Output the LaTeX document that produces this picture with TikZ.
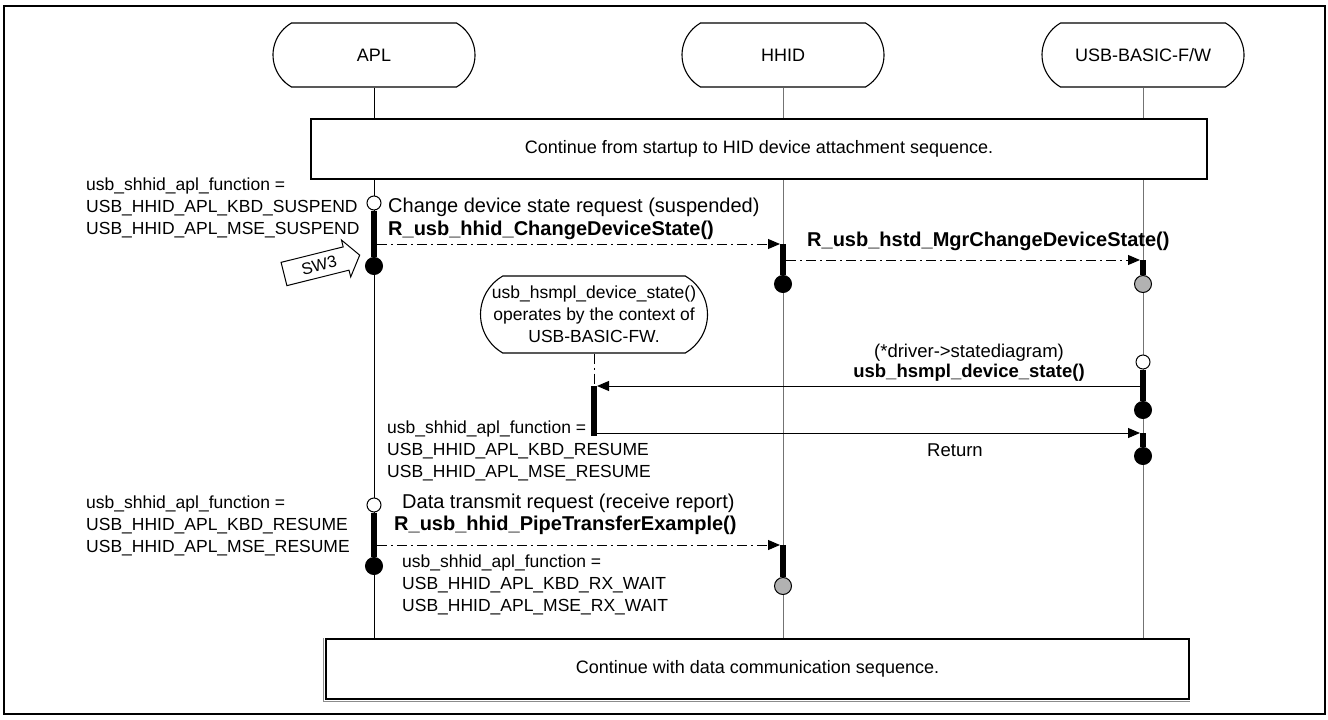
\documentclass[tikz,border=0pt]{standalone}
\usepackage{fontspec}
\setmainfont{Liberation Sans}
\usetikzlibrary{arrows.meta,shapes.misc}

\tikzset{
  frame/.style={line width=2pt},
  actor/.style={rounded rectangle, rounded rectangle arc length=120, draw, line width=1.1pt,
    minimum width=202pt, minimum height=64pt, inner sep=0pt, font=\fontsize{18}{22}\selectfont},
  seqbox/.style={draw, line width=1.3pt, fill=white, minimum height=60pt, inner sep=0pt,
    font=\fontsize{18}{22}\selectfont},
  bubble/.style={rounded rectangle, rounded rectangle arc length=120, draw, line width=1.1pt,
    fill=white, minimum width=227pt, minimum height=77pt, inner sep=0pt, align=center,
    font=\fontsize{17.5}{22}\selectfont},
  life/.style={draw=black!55, line width=1pt},
  actbar/.style={line width=6pt},
  openend/.style={circle, draw, line width=1pt, fill=white, minimum size=14pt, inner sep=0pt},
  closedend/.style={circle, draw, line width=1pt, fill=black, minimum size=17pt, inner sep=0pt},
  grayend/.style={circle, draw, line width=1pt, fill=black!30, minimum size=17pt, inner sep=0pt},
  dashdot/.style={dash pattern=on 10pt off 4pt on 2pt off 4pt},
  call/.style={line width=1pt, dashdot, -{Triangle[length=12pt,width=10pt]}},
  reply/.style={line width=1pt, -{Triangle[length=12pt,width=10pt]}},
  note/.style={font=\fontsize{17.5}{22}\selectfont, inner sep=0pt, align=left, anchor=west},
  msg/.style={font=\fontsize{20}{22}\selectfont, inner sep=0pt, anchor=west},
  msgb/.style={inner sep=0pt, anchor=west, font=\fontsize{20}{22}\selectfont\bfseries},
  smallmsg/.style={font=\fontsize{18.5}{22}\selectfont, inner sep=0pt},
}

\begin{document}
\begin{tikzpicture}[x=1pt,y=-1pt]
\useasboundingbox (0,0) rectangle (1328,720);
\fill[white] (0,0) rectangle (1328,720);
\draw[frame] (4,6) rectangle (1325,714);

% lifeline heads
\node[actor] (apl)  at (374,55)  {APL};
\node[actor] (hhid) at (783,55)  {HHID};
\node[actor] (usb)  at (1143,55) {USB-BASIC-F/W};

% lifelines
\coordinate (lifeend) at (0,639);
\draw[life, draw=black] (apl.south) -- (apl.south |- lifeend);
\draw[life] (hhid.south) -- (hhid.south |- lifeend);
\draw[life] (usb.south)  -- (usb.south |- lifeend);

% sequence frames
\node[seqbox, minimum width=896pt] (top) at (759,149)
  {Continue from startup to HID device attachment sequence.};
\node[seqbox, minimum width=863pt] (bot) at (757.5,669)
  {Continue with data communication sequence.};
\draw[black!45, line width=1pt] ([xshift=-1.5pt]bot.north west)
  -- ([shift={(-1.5pt,-1.5pt)}]bot.south west) -- ([yshift=-1.5pt]bot.south east);

% ---- suspend request ----
\node[note] (n1) at (86,208) {usb\_shhid\_apl\_function =\\USB\_HHID\_APL\_KBD\_SUSPEND\\USB\_HHID\_APL\_MSE\_SUSPEND};
\node[openend] (o1) at (374,203) {};
\node[closedend] (c1) at (374,266) {};
\draw[actbar] (o1.south) -- (c1.north);
\node[msg]  (t1) at (388,207) {Change device state request (suspended)};
\node[msgb] (t2) at (388,230) {R\_usb\_hhid\_ChangeDeviceState()};
\coordinate (m1a) at (377,244);
\coordinate (m1b) at (780,244);
\draw[call] (m1a) -- (m1b);
\coordinate (h1t) at (783,244);
\node[closedend] (c2) at (783,284) {};
\draw[actbar] (h1t) -- (c2.north);

\node[msgb] (t3) at (807,241) {R\_usb\_hstd\_MgrChangeDeviceState()};
\coordinate (m2a) at (786,260);
\coordinate (m2b) at (1140,260);
\draw[call] (m2a) -- (m2b);
\coordinate (u1t) at (1143,260);
\node[grayend] (g1) at (1143,284) {};
\draw[actbar] (u1t) -- (g1.north);

% switch trigger
\begin{scope}[shift={(284,274)}, rotate=14]
  \draw[line width=1pt, fill=white] (0,-12) -- (64,-12) -- (64,-19) -- (78,0)
    -- (64,19) -- (64,12) -- (0,12) -- cycle;
\end{scope}
\node[rotate=14, font=\fontsize{16.5}{20}\selectfont, inner sep=0pt] (sw) at (319,265.5) {SW3};

% ---- state change callback ----
\node[bubble] (bub) at (594,314.5) {usb\_hsmpl\_device\_state()\\operates by the context of\\USB-BASIC-FW.};
\coordinate (cbend) at (594,384);
\draw[line width=1pt, dashdot] (bub.south) -- (cbend);

\node[smallmsg] (t4) at (969,353) {(*driver->statediagram)};
\node[smallmsg, font=\fontsize{18.5}{22}\selectfont\bfseries] (t5) at (969,373) {usb\_hsmpl\_device\_state()};
\node[openend] (o2) at (1143,362) {};
\node[closedend] (c3) at (1143,410) {};
\draw[actbar] (o2.south) -- (c3.north);
\coordinate (m3a) at (1140,386);
\coordinate (m3b) at (597,386);
\draw[reply] (m3a) -- (m3b);

\coordinate (cbt) at (594,386);
\coordinate (cbb) at (594,436);
\draw[actbar] (cbt) -- (cbb);
\node[note] (n2) at (387,451) {usb\_shhid\_apl\_function =\\USB\_HHID\_APL\_KBD\_RESUME\\USB\_HHID\_APL\_MSE\_RESUME};
\coordinate (m4a) at (597,433);
\coordinate (m4b) at (1140,433);
\draw[reply] (m4a) -- (m4b);
\node[smallmsg] (t6) at (955,450) {Return};
\coordinate (u3t) at (1143,433);
\node[closedend] (c4) at (1143,456) {};
\draw[actbar] (u3t) -- (c4.north);

% ---- receive request ----
\node[note] (n3) at (86,526) {usb\_shhid\_apl\_function =\\USB\_HHID\_APL\_KBD\_RESUME\\USB\_HHID\_APL\_MSE\_RESUME};
\node[openend] (o3) at (374,505) {};
\node[closedend] (c5) at (374,566) {};
\draw[actbar] (o3.south) -- (c5.north);
\node[msg]  (t7) at (402,503) {Data transmit request (receive report)};
\node[msgb] (t8) at (394,525) {R\_usb\_hhid\_PipeTransferExample()};
\coordinate (m5a) at (377,545);
\coordinate (m5b) at (780,545);
\draw[call] (m5a) -- (m5b);
\coordinate (h2t) at (783,545);
\node[grayend] (g2) at (783,586) {};
\draw[actbar] (h2t) -- (g2.north);
\node[note] (n4) at (402,585) {usb\_shhid\_apl\_function =\\USB\_HHID\_APL\_KBD\_RX\_WAIT\\USB\_HHID\_APL\_MSE\_RX\_WAIT};
\end{tikzpicture}
\end{document}
